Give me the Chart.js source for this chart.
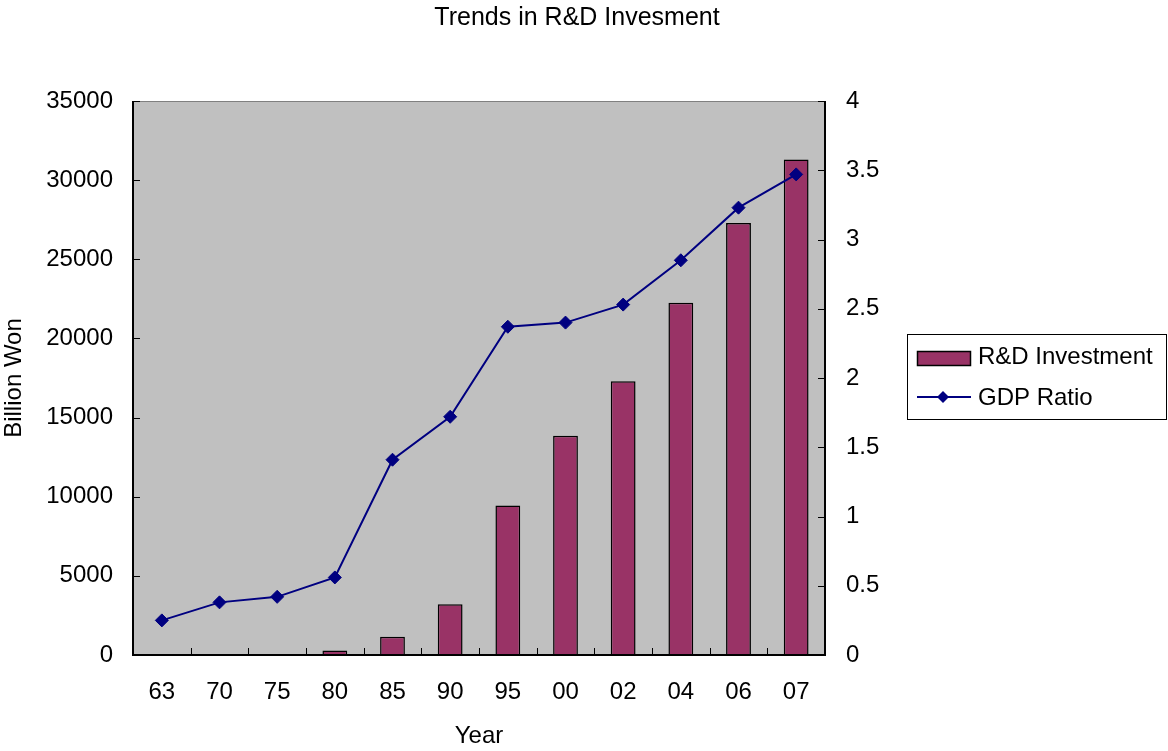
<!DOCTYPE html>
<html>
<head>
<meta charset="utf-8">
<title>Trends in R&amp;D Invesment</title>
<script src="https://cdn.jsdelivr.net/npm/chart.js@4.4.1/dist/chart.umd.min.js"></script>
<style>
  html, body { margin: 0; padding: 0; background: #ffffff; }
  #wrap { width: 1168px; height: 751px; position: relative; }
</style>
</head>
<body>
<div id="wrap"><canvas id="chart" width="1168" height="751"></canvas></div>
<script>
// Survey years (two-digit) and values
const years = ['63', '70', '75', '80', '85', '90', '95', '00', '02', '04', '06', '07'];
// R&D investment, billion won (earliest years are too small to show)
const rdInvestment = [null, null, null, 280, 1160, 3200, 9440, 13850, 17300, 22250, 27300, 31300];
// R&D spending as a share of GDP, %
const gdpRatio = [0.25, 0.38, 0.42, 0.56, 1.41, 1.72, 2.37, 2.40, 2.53, 2.85, 3.23, 3.47];
// Axis ranges and steps
const leftTicks = { min: 0, max: 35000, step: 5000 };
const rightTicks = { min: 0, max: 4, step: 0.5 };

const chartTitle = 'Trends in R&D Invesment';
const FONT = '"Liberation Sans", Arial, sans-serif';
const BAR_COLOR = '#993366';
const LINE_COLOR = '#000080';
const PLOT_BG = '#C0C0C0';

// Plot background, frame, inward tick marks, title and legend box
const decor = {
  id: 'decor',
  beforeDatasetsDraw(chart) {
    const { ctx, chartArea: a } = chart;
    ctx.save();
    ctx.fillStyle = PLOT_BG;
    ctx.fillRect(a.left, a.top, a.right - a.left, a.bottom - a.top);
    ctx.restore();
  },
  afterDatasetsDraw(chart) {
    const { ctx, chartArea: a, scales } = chart;
    ctx.save();
    // top frame edge
    ctx.strokeStyle = '#808080';
    ctx.lineWidth = 1;
    ctx.beginPath();
    ctx.moveTo(a.left, a.top + 0.5);
    ctx.lineTo(a.right, a.top + 0.5);
    ctx.stroke();
    // axis lines
    ctx.strokeStyle = '#000000';
    ctx.lineWidth = 2;
    ctx.beginPath();
    ctx.moveTo(a.left, a.top);
    ctx.lineTo(a.left, a.bottom);
    ctx.lineTo(a.right, a.bottom);
    ctx.lineTo(a.right, a.top);
    ctx.stroke();
    // tick marks pointing into the plot
    ctx.lineWidth = 1;
    ctx.beginPath();
    const x = scales.x;
    const n = x.ticks.length;
    const half = (x.getPixelForTick(1) - x.getPixelForTick(0)) / 2;
    for (let i = 1; i < n; i++) {
      const px = Math.round(x.getPixelForTick(i) - half) + 0.5;
      ctx.moveTo(px, a.bottom);
      ctx.lineTo(px, a.bottom - 7);
    }
    scales.y.ticks.forEach((t, i) => {
      const py = Math.round(scales.y.getPixelForTick(i)) + 0.5;
      ctx.moveTo(a.left, py);
      ctx.lineTo(a.left + 7, py);
    });
    scales.y1.ticks.forEach((t, i) => {
      const py = Math.round(scales.y1.getPixelForTick(i)) + 0.5;
      ctx.moveTo(a.right, py);
      ctx.lineTo(a.right - 7, py);
    });
    ctx.stroke();
    ctx.restore();
  },
  afterDraw(chart) {
    const { ctx } = chart;
    const ds = chart.data.datasets;
    const barDs = ds.find(d => d.type === 'bar');
    const lineDs = ds.find(d => d.type === 'line');
    ctx.save();
    // title
    ctx.fillStyle = '#000';
    ctx.font = '25px ' + FONT;
    ctx.textAlign = 'center';
    ctx.textBaseline = 'middle';
    ctx.fillText(chartTitle, 577, 18);

    // legend box
    ctx.fillStyle = '#ffffff';
    ctx.fillRect(907.5, 334.5, 259, 85);
    ctx.strokeStyle = '#000';
    ctx.lineWidth = 1;
    ctx.strokeRect(907.5, 334.5, 259, 85);

    // bar entry
    ctx.fillStyle = barDs.backgroundColor;
    ctx.fillRect(917.5, 351.5, 53, 14);
    ctx.strokeStyle = barDs.borderColor;
    ctx.lineWidth = 1.5;
    ctx.strokeRect(917.5, 351.5, 53, 14);

    // line entry
    ctx.strokeStyle = lineDs.borderColor;
    ctx.lineWidth = 2;
    ctx.beginPath();
    ctx.moveTo(917, 397);
    ctx.lineTo(971, 397);
    ctx.stroke();
    ctx.fillStyle = lineDs.pointBackgroundColor;
    ctx.beginPath();
    ctx.moveTo(943, 391);
    ctx.lineTo(949, 397);
    ctx.lineTo(943, 403);
    ctx.lineTo(937, 397);
    ctx.closePath();
    ctx.fill();

    ctx.fillStyle = '#000';
    ctx.font = '24px ' + FONT;
    ctx.textAlign = 'left';
    ctx.textBaseline = 'middle';
    ctx.fillText(barDs.label, 978, 357);
    ctx.fillText(lineDs.label, 978, 398);
    ctx.restore();
  }
};

const tickFont = { family: FONT, size: 24 };

new Chart(document.getElementById('chart'), {
  data: {
    labels: years,
    datasets: [
      {
        type: 'bar',
        label: 'R&D Investment',
        data: rdInvestment,
        yAxisID: 'y',
        backgroundColor: BAR_COLOR,
        borderColor: '#000000',
        borderWidth: 1.5,
        borderSkipped: 'bottom',
        barPercentage: 0.43,
        categoryPercentage: 1,
        order: 2
      },
      {
        type: 'line',
        label: 'GDP Ratio',
        data: gdpRatio,
        yAxisID: 'y1',
        borderColor: LINE_COLOR,
        borderWidth: 2,
        pointStyle: 'rectRot',
        pointRadius: 6.5,
        pointBackgroundColor: LINE_COLOR,
        pointBorderColor: LINE_COLOR,
        pointBorderWidth: 1,
        tension: 0,
        order: 1
      }
    ]
  },
  options: {
    responsive: false,
    animation: false,
    devicePixelRatio: 1,
    layout: { padding: { top: 101, left: 0, right: 0, bottom: 0 } },
    plugins: {
      legend: { display: false },
      title: { display: false },
      tooltip: { enabled: false }
    },
    scales: {
      x: {
        type: 'category',
        offset: true,
        grid: { display: false, drawTicks: false },
        border: { display: false },
        ticks: { color: '#000', font: tickFont, padding: 23, maxRotation: 0, autoSkip: false },
        title: { display: true, text: 'Year', color: '#000', font: tickFont, padding: 0 },
        afterFit(s) { s.height = 96; }
      },
      y: {
        position: 'left',
        min: leftTicks.min,
        max: leftTicks.max,
        grid: { display: false, drawTicks: false },
        border: { display: false },
        ticks: {
          stepSize: leftTicks.step,
          color: '#000',
          font: tickFont,
          padding: 20,
          callback: v => String(v)
        },
        title: { display: true, text: 'Billion Won', color: '#000', font: tickFont, padding: 0 },
        afterFit(s) { s.width = 133; }
      },
      y1: {
        position: 'right',
        min: rightTicks.min,
        max: rightTicks.max,
        grid: { display: false, drawTicks: false },
        border: { display: false },
        ticks: {
          stepSize: rightTicks.step,
          color: '#000',
          font: tickFont,
          padding: 21,
          callback: v => String(v)
        },
        afterFit(s) { s.width = 343; }
      }
    }
  },
  plugins: [decor]
});
</script>
</body>
</html>
